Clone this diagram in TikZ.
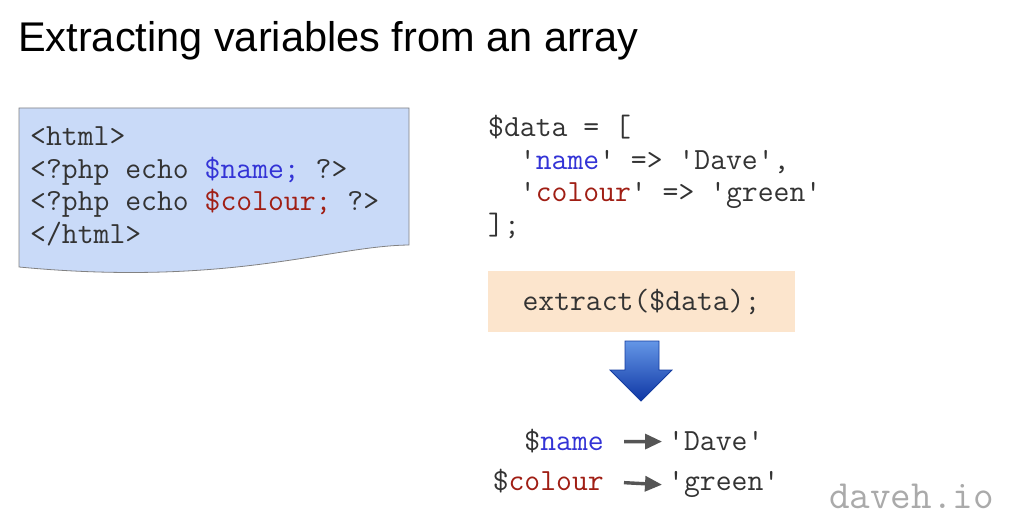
\documentclass[tikz,border=0pt]{standalone}
\usepackage{fontspec}
\setmainfont{Liberation Sans}
\usetikzlibrary{arrows.meta,shadings}
\definecolor{codegray}{RGB}{51,51,51}
\definecolor{varblue}{RGB}{51,51,214}
\definecolor{varred}{RGB}{160,30,20}
\definecolor{docfill}{RGB}{201,218,248}
\definecolor{docline}{RGB}{130,130,130}
\definecolor{boxfill}{RGB}{252,229,205}
\definecolor{arrowgray}{RGB}{85,85,85}
\definecolor{markgray}{RGB}{170,170,170}
\tikzset{
  code/.style={font=\fontsize{30.8}{34}\selectfont\ttfamily, text=codegray, inner sep=0pt, anchor=base west},
  coderight/.style={code, anchor=base east},
  mapto/.style={draw=arrowgray, line width=3.4pt, -{Triangle[length=17pt,width=15pt]}, shorten <=20pt, shorten >=6pt}
}
\newcommand{\vb}[1]{\textcolor{varblue}{#1}}
\newcommand{\vr}[1]{\textcolor{varred}{#1}}
\begin{document}
\begin{tikzpicture}[x=1pt,y=-1pt]
\useasboundingbox[fill=white] (0,0) rectangle (1012,521);

% title
\node[font=\fontsize{41.5}{46}\selectfont, anchor=base west, inner sep=0pt] (title) at (18,52) {Extracting variables from an array};

% template document shape
\draw[docline, fill=docfill, line width=0.8pt]
  (19,108) -- (409,108) -- (409,245)
  .. controls (330,246) and (230,287) .. (19,267) -- cycle;
\node[code] (t1) at (30,146) {<html>};
\node[code] (t2) at (30,179) {<?php echo \vb{\$name;} ?>};
\node[code] (t3) at (30,211) {<?php echo \vr{\$colour;} ?>};
\node[code] (t4) at (30,244) {</html>};

% array definition
\node[code] (d1) at (488,137) {\$data = [};
\node[code] (d2) at (488,170) {\ \ '\vb{name}' => 'Dave',};
\node[code] (d3) at (488,202) {\ \ '\vr{colour}' => 'green'};
\node[code] (d4) at (488,235) {];};

% extract call
\fill[boxfill] (488,271) rectangle (795,332);
\node[code, anchor=base] (ex) at (641.5,311) {extract(\$data);};

% big down arrow
\shade[top color={rgb,255:red,100;green,150;blue,230}, bottom color={rgb,255:red,15;green,55;blue,165}, draw={rgb,255:red,20;green,60;blue,160}, line width=0.8pt]
  (625,341) -- (659,341) -- (659,370) -- (672,370) -- (641,401) -- (610,370) -- (625,370) -- cycle;

% resulting variables
\node[coderight] (n1) at (604,450) {\$\vb{name}};
\node[code] (v1) at (668,450) {'Dave'};
\node[coderight] (n2) at (604,490) {\$\vr{colour}};
\node[code] (v2) at (668,490) {'green'};
\draw[mapto] ([yshift=-1pt]n1.east) -- ([yshift=-1pt]v1.west);
\draw[mapto] ([yshift=-1pt]n2.east) -- ([yshift=-1pt]v2.west);

% footer mark
\node[font=\fontsize{40}{44}\selectfont\ttfamily, text=markgray, anchor=base east, inner sep=0pt] (mark) at (994,508) {daveh.io};
\end{tikzpicture}
\end{document}
